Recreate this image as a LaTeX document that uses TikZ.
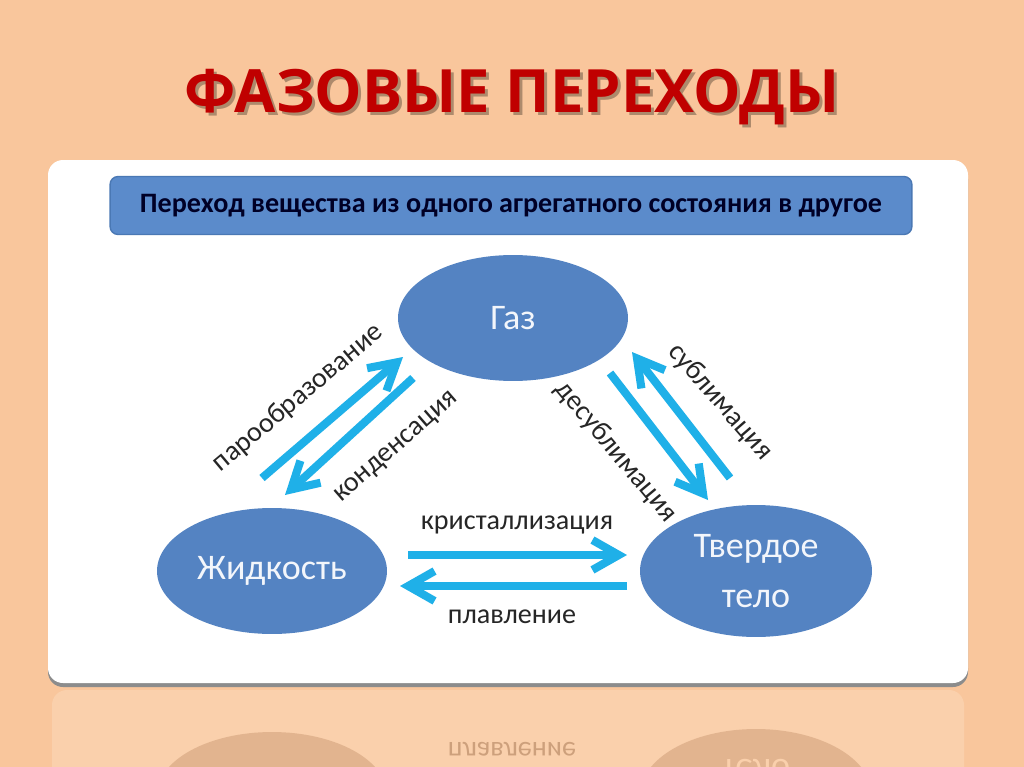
\documentclass[tikz,border=0pt]{standalone}
\usepackage{fontspec}
\setmainfont{Carlito}
\newfontfamily\titlefont{Open Sans}
\usetikzlibrary{arrows.meta,shapes.geometric}
\definecolor{bgc}{HTML}{F9C69C}
\definecolor{bgl}{HTML}{FAD0AC}
\definecolor{titlered}{HTML}{C00000}
\definecolor{barfill}{HTML}{5B8BCB}
\definecolor{barborder}{HTML}{4A78B4}
\definecolor{ellfill}{HTML}{5483C2}
\definecolor{arrowc}{HTML}{1FB0E8}
\definecolor{lblc}{HTML}{262626}
\definecolor{reflell}{HTML}{E2B48F}
\definecolor{refltxt}{HTML}{CDA07C}
\begin{document}
\begin{tikzpicture}[x=0.02cm,y=-0.02cm,
  ell/.style={ellipse, fill=ellfill, text=white!93!ellfill, font=\fontsize{20.5}{28.5}\selectfont, align=center, inner sep=0pt},
  lbl/.style={text=lblc, font=\fontsize{16}{18}\selectfont, inner sep=0pt},
  arr/.style={draw=arrowc, line width=4.6pt, -{Straight Barb[length=15pt,width=17pt]}}]
\useasboundingbox (0,0) rectangle (1024,767);
\clip (0,0) rectangle (1024,767);
% background
\fill[bgc] (0,0) rectangle (1024,767);
% title
\node[font=\titlefont\bfseries\fontsize{34}{40}\selectfont, text=black, opacity=0.3] (titleshadow) at (515,100) {ФАЗОВЫЕ ПЕРЕХОДЫ};
\node[font=\titlefont\bfseries\fontsize{34}{40}\selectfont, text=titlered] (title) at (512,97) {ФАЗОВЫЕ ПЕРЕХОДЫ};
% reflection
\fill[bgl, rounded corners=0.3cm] (52,690) rectangle (964,800);
\fill[reflell] (272,795) ellipse [x radius=2.3cm, y radius=1.26cm];
\fill[reflell] (756,795) ellipse [x radius=2.32cm, y radius=1.32cm];
\node[lbl, text=refltxt, yscale=-1] (reflpl) at (512,749) {плавление};
\node[font=\fontsize{20.5}{28.5}\selectfont, text=bgl, yscale=-1] (refltelo) at (756,768) {тело};
% white panel
\fill[black!45, rounded corners=0.3cm] (48,164) rectangle (968,687);
\fill[white, rounded corners=0.3cm] (48,160) rectangle (968,683);
% header
\node[draw=barborder, line width=0.8pt, fill=barfill, rounded corners=0.16cm, minimum width=16.04cm, minimum height=1.16cm, inner sep=0pt, text=black!85!blue, font=\bfseries\fontsize{16}{18}\selectfont] (hdr) at (511,205.5) {Переход вещества из одного агрегатного состояния в другое};
% states
\node[ell, minimum width=4.6cm, minimum height=2.52cm] (gas) at (513,318) {Газ};
\node[ell, minimum width=4.6cm, minimum height=2.52cm] (liq) at (272,571) {Жидкость};
\node[ell, minimum width=4.64cm, minimum height=2.64cm] (sol) at (756,571) {Твердое\\тело};
% arrow end points
\coordinate (a1s) at (262,478); \coordinate (a1e) at (403,357);
\coordinate (a2s) at (413,378); \coordinate (a2e) at (285,495);
\coordinate (a3s) at (730,478); \coordinate (a3e) at (632,352);
\coordinate (a4s) at (610,373); \coordinate (a4e) at (708,500);
\coordinate (a5s) at (408,555); \coordinate (a5e) at (627,555);
\coordinate (a6s) at (627,586); \coordinate (a6e) at (400,586);
\draw[arr] (a1s) -- (a1e);
\draw[arr] (a2s) -- (a2e);
\draw[arr] (a3s) -- (a3e);
\draw[arr] (a4s) -- (a4e);
\draw[arr] (a5s) -- (a5e);
\draw[arr] (a6s) -- (a6e);
% labels
\node[lbl, rotate=40] (lpar) at (298,398) {парообразование};
\node[lbl, rotate=41] (lkon) at (397,448) {конденсация};
\node[lbl, rotate=-49] (lsub) at (720,402) {сублимация};
\node[lbl, rotate=-50] (ldes) at (616,452) {десублимация};
\node[lbl] (lkri) at (517,525) {кристаллизация};
\node[lbl] (lpla) at (512,617) {плавление};
\end{tikzpicture}
\end{document}
